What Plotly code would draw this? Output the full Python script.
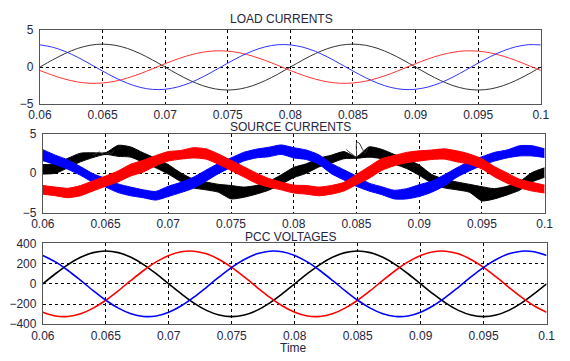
import plotly.graph_objects as go

# ---------------- data ----------------
t = [0.060, 0.061, 0.062, 0.063, 0.064, 0.065, 0.066, 0.067, 0.068, 0.069,
     0.070, 0.071, 0.072, 0.073, 0.074, 0.075, 0.076, 0.077, 0.078, 0.079,
     0.080, 0.081, 0.082, 0.083, 0.084, 0.085, 0.086, 0.087, 0.088, 0.089,
     0.090, 0.091, 0.092, 0.093, 0.094, 0.095, 0.096, 0.097, 0.098, 0.099,
     0.100]

x_tickvals = [0.06, 0.065, 0.07, 0.075, 0.08, 0.085, 0.09, 0.095, 0.1]
x_ticktext = ["0.06", "0.065", "0.07", "0.075", "0.08", "0.085", "0.09", "0.095", "0.1"]
i_tickvals = [-5, 0, 5]
v_tickvals = [-400, -200, 0, 200, 400]

# LOAD CURRENTS
load_black = [0, 0.96, 1.82, 2.51, 2.95, 3.1, 2.95, 2.51, 1.82, 0.96,
              0, -0.96, -1.82, -2.51, -2.95, -3.1, -2.95, -2.51, -1.82, -0.96,
              0, 0.96, 1.82, 2.51, 2.95, 3.1, 2.95, 2.51, 1.82, 0.96,
              0, -0.96, -1.82, -2.51, -2.95, -3.1, -2.95, -2.51, -1.82, -0.96,
              0]
load_blue = [3.00, 2.69, 2.12, 1.34, 0.42, -0.53, -1.43, -2.19, -2.74, -3.02,
             -3.00, -2.69, -2.12, -1.34, -0.42, 0.53, 1.43, 2.19, 2.74, 3.02,
             3.00, 2.69, 2.12, 1.34, 0.42, -0.53, -1.43, -2.19, -2.74, -3.02,
             -3.00, -2.69, -2.12, -1.34, -0.42, 0.53, 1.43, 2.19, 2.74, 3.02,
             3.00]
load_red = [-0.46, -1.10, -1.63, -2.01, -2.19, -2.15, -1.91, -1.47, -0.90, -0.23,
            0.46, 1.10, 1.63, 2.01, 2.19, 2.15, 1.91, 1.47, 0.90, 0.23,
            -0.46, -1.10, -1.63, -2.01, -2.19, -2.15, -1.91, -1.47, -0.90, -0.23,
            0.46, 1.10, 1.63, 2.01, 2.19, 2.15, 1.91, 1.47, 0.90, 0.23,
            -0.46]

# SOURCE CURRENTS (centre of the noisy band and its half-thickness)
src_black = [0.5, 0.6, 1.3, 2.0, 2.3, 2.5, 2.85, 2.7, 2.0, 1.3,
             0.5, -0.5, -1.3, -1.6, -1.9, -2.4, -2.4, -2.1, -1.6, -0.8,
             0.1, 0.6, 1.35, 1.8, 2.3, 2.0, 2.7, 2.45, 1.8, 1.2,
             0.4, -0.7, -1.3, -1.6, -1.9, -2.6, -2.6, -2.2, -1.6, -0.5,
             0.1]
src_black_hw = [0.6, 0.6, 0.6, 0.55, 0.3, 0.1, 0.7, 0.65, 0.6, 0.6,
                0.6, 0.55, 0.55, 0.5, 0.5, 0.85, 0.65, 0.55, 0.55, 0.6,
                0.65, 0.6, 0.55, 0.5, 0.45, 0.1, 0.65, 0.6, 0.6, 0.6,
                0.65, 0.55, 0.55, 0.5, 0.5, 0.9, 0.65, 0.55, 0.55, 0.6,
                0.6]
src_blue = [2.3, 1.7, 1.1, 0.3, -0.6, -1.2, -1.9, -2.3, -2.6, -2.85,
            -2.3, -1.8, -1.2, -0.3, 0.6, 1.35, 2.1, 2.5, 2.7, 3.0,
            2.6, 2.35, 1.75, 0.6, -0.2, -1.0, -1.75, -2.2, -2.7, -2.6,
            -2.2, -1.7, -0.9, 0.1, 0.9, 1.55, 2.1, 2.45, 2.85, 2.85,
            2.55]
src_blue_hw = [0.7, 0.6, 0.6, 0.55, 0.55, 0.55, 0.55, 0.55, 0.5, 0.55,
               0.65, 0.65, 0.7, 0.7, 0.65, 0.6, 0.55, 0.55, 0.6, 0.6,
               0.65, 0.6, 0.6, 0.65, 0.65, 0.65, 0.5, 0.5, 0.55, 0.65,
               0.75, 0.7, 0.7, 0.6, 0.6, 0.55, 0.55, 0.5, 0.65, 0.65,
               0.55]
src_red = [-2.1, -2.3, -2.5, -2.2, -1.6, -1.0, -0.4, 0.4, 0.9, 1.6,
           2.15, 2.35, 2.6, 2.45, 1.8, 1.0, 0.2, -0.6, -1.2, -1.6,
           -2.0, -2.1, -2.3, -2.1, -1.7, -0.8, 0.1, 1.1, 1.6, 2.0,
           2.2, 2.35, 2.45, 2.15, 1.8, 1.2, 0.2, -0.6, -1.3, -1.7,
           -2.0]
src_red_hw = [0.55, 0.55, 0.6, 0.65, 0.65, 0.65, 0.7, 0.75, 0.75, 0.65,
              0.6, 0.55, 0.65, 0.65, 0.65, 0.65, 0.65, 0.65, 0.55, 0.5,
              0.5, 0.55, 0.55, 0.55, 0.55, 0.65, 0.75, 0.75, 0.65, 0.65,
              0.65, 0.6, 0.65, 0.7, 0.65, 0.65, 0.65, 0.65, 0.55, 0.55,
              0.5]
# quiet (noise-free) stretches of the black source current
quiet1_t = [0.0640, 0.0643, 0.0645, 0.0647, 0.0649, 0.0651, 0.0653, 0.0655, 0.0657]
quiet1_y = [2.3, 2.5, 2.7, 2.45, 2.65, 2.5, 2.6, 2.55, 2.9]
quiet2_t = [0.0842, 0.0845, 0.0847, 0.08497, 0.08503, 0.0852, 0.0855, 0.0857, 0.0859]
quiet2_y = [3.0, 2.6, 2.4, 2.0, 3.9, 3.85, 3.0, 2.6, 3.2]

# PCC VOLTAGES
pcc_black = [0, 100, 191, 263, 309, 325, 309, 263, 191, 100,
             0, -100, -191, -263, -309, -325, -309, -263, -191, -100,
             0, 100, 191, 263, 309, 325, 309, 263, 191, 100,
             0, -100, -191, -263, -309, -325, -309, -263, -191, -100,
             0]
pcc_red = [-281, -318, -323, -297, -241, -163, -68, 34, 132, 217,
           281, 318, 323, 297, 241, 163, 68, -34, -132, -217,
           -281, -318, -323, -297, -241, -163, -68, 34, 132, 217,
           281, 318, 323, 297, 241, 163, 68, -34, -132, -217,
           -281]
pcc_blue = [281, 217, 132, 34, -68, -163, -241, -297, -323, -318,
            -281, -217, -132, -34, 68, 163, 241, 297, 323, 318,
            281, 217, 132, 34, -68, -163, -241, -297, -323, -318,
            -281, -217, -132, -34, 68, 163, 241, 297, 323, 318,
            281]

titles = ["LOAD CURRENTS", "SOURCE CURRENTS", "PCC VOLTAGES"]
xlabel = "Time"

# ---------------- figure ----------------
W, H = 570, 361
BLACK, RED, BLUE = "#000000", "#ff0000", "#0000ff"
FONT = "Liberation Sans, Arial, sans-serif"
TXT = "#262640"

fig = go.Figure()

def line(x, y, color, width, ax):
    fig.add_trace(go.Scatter(x=x, y=y, mode="lines", line=dict(color=color, width=width, shape="spline", smoothing=0.9),
                             xaxis="x" + ax, yaxis="y" + ax, showlegend=False, hoverinfo="skip"))

def band(x, c, hw, color, ax):
    up = [a + b for a, b in zip(c, hw)]
    lo = [a - b for a, b in zip(c, hw)]
    fig.add_trace(go.Scatter(x=x, y=up, mode="lines", line=dict(color=color, width=1, shape="spline", smoothing=0.6),
                             xaxis="x" + ax, yaxis="y" + ax, showlegend=False, hoverinfo="skip"))
    fig.add_trace(go.Scatter(x=x, y=lo, mode="lines", line=dict(color=color, width=1, shape="spline", smoothing=0.6),
                             fill="tonexty", fillcolor=color,
                             xaxis="x" + ax, yaxis="y" + ax, showlegend=False, hoverinfo="skip"))

# panel 1
line(t, load_black, "#333333", 1, "")
line(t, load_red, "#ff3333", 1, "")
line(t, load_blue, "#3333ff", 1, "")
# panel 2
band(t, src_black, src_black_hw, BLACK, "2")
band(t, src_blue, src_blue_hw, BLUE, "2")
band(t, src_red, src_red_hw, RED, "2")
fig.add_trace(go.Scatter(x=quiet1_t, y=quiet1_y, mode="lines", line=dict(color="#333333", width=1),
                         xaxis="x2", yaxis="y2", showlegend=False, hoverinfo="skip"))
fig.add_trace(go.Scatter(x=quiet2_t, y=quiet2_y, mode="lines", line=dict(color="#333333", width=1, shape="spline"),
                         xaxis="x2", yaxis="y2", showlegend=False, hoverinfo="skip"))
# panel 3
line(t, pcc_black, BLACK, 1.6, "3")
line(t, pcc_red, RED, 1.6, "3")
line(t, pcc_blue, BLUE, 1.6, "3")

# domains in pixels: (left, right, top, bottom)
boxes = [(29, 549, 24, 101), (32, 553, 132, 214), (32, 555, 246, 330)]

def xax(box, anchor):
    l, r, tp, b = box
    return dict(domain=[l / W, r / W], range=[0.06, 0.1], anchor=anchor,
                tickmode="array", tickvals=x_tickvals, ticktext=x_ticktext,
                showgrid=True, gridcolor="#000000", gridwidth=1, griddash="3px,3px",
                showline=True, linecolor="#555555", linewidth=1, mirror=True,
                zeroline=False, ticks="", tickfont=dict(family=FONT, size=12, color=TXT))

def yax(box, anchor, rng, tv):
    l, r, tp, b = box
    return dict(domain=[1 - b / H, 1 - tp / H], range=rng, anchor=anchor,
                tickmode="array", tickvals=tv,
                showgrid=True, gridcolor="#000000", gridwidth=1, griddash="3px,3px",
                showline=True, linecolor="#555555", linewidth=1, mirror=True,
                zeroline=False, ticks="", ticklabelstandoff=3,
                tickfont=dict(family=FONT, size=12, color=TXT))

annotations = []
for (txt, x, y) in [(titles[0], 280, 13), (titles[1], 289, 124.5), (titles[2], 289.5, 239), (xlabel, 292, 354.5)]:
    annotations.append(dict(text=txt, x=x / W, y=1 - y / H, xref="paper", yref="paper",
                            xanchor="center", yanchor="middle", showarrow=False, borderpad=0,
                            font=dict(family=FONT, size=12, color=TXT)))

fig.update_layout(
    width=W, height=H, margin=dict(l=0, r=0, t=0, b=0),
    paper_bgcolor="white", plot_bgcolor="white", showlegend=False,
    xaxis=xax(boxes[0], "y"), yaxis=yax(boxes[0], "x", [-5, 5], i_tickvals),
    xaxis2=xax(boxes[1], "y2"), yaxis2=yax(boxes[1], "x2", [-5, 5], i_tickvals),
    xaxis3=xax(boxes[2], "y3"), yaxis3=yax(boxes[2], "x3", [-400, 400], v_tickvals),
    annotations=annotations,
)

fig.write_html("out.html")
